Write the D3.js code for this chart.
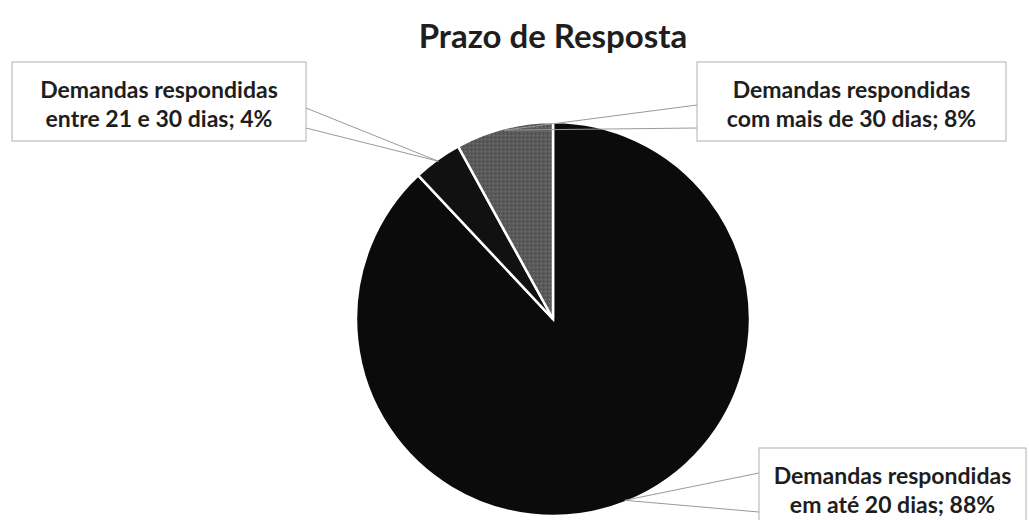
<!DOCTYPE html>
<html>
<head>
<meta charset="utf-8">
<style>
  body { margin: 0; background: #fff; }
  svg text { font-family: Lato, "Open Sans", sans-serif; font-weight: bold; fill: #1e1e1e; }
</style>
</head>
<body>
<svg width="1029" height="520"></svg>
<script src="https://d3js.org/d3.v7.min.js"></script>
<script>

// chart data
var categories = ["Demandas respondidas em até 20 dias",
                  "Demandas respondidas entre 21 e 30 dias",
                  "Demandas respondidas com mais de 30 dias"];
var values = [88, 4, 8];
var labelLines = [["Demandas respondidas", "em até 20 dias; 88%"],
                  ["Demandas respondidas", "entre 21 e 30 dias; 4%"],
                  ["Demandas respondidas", "com mais de 30 dias; 8%"]];
var title = "Prazo de Resposta";

var svg = d3.select("svg"),
    width = +svg.attr("width"),
    height = +svg.attr("height");

var cx = 553, cy = 319, radius = 197;

// dotted grey texture for the small slice
var defs = svg.append("defs");
var pat = defs.append("pattern")
    .attr("id", "grain")
    .attr("width", 4).attr("height", 4)
    .attr("patternUnits", "userSpaceOnUse");
pat.append("rect").attr("width", 4).attr("height", 4).attr("fill", "#5a5a5a");
pat.append("rect").attr("x", 0).attr("y", 0).attr("width", 1).attr("height", 1).attr("fill", "#7a7a7a");
pat.append("rect").attr("x", 2).attr("y", 2).attr("width", 1).attr("height", 1).attr("fill", "#454545");

var color = d3.scaleOrdinal()
    .domain(categories)
    .range(["#0b0b0b", "#111111", "url(#grain)"]);

svg.append("text")
    .attr("x", cx)
    .attr("y", 48)
    .attr("text-anchor", "middle")
    .attr("font-size", 33)
    .text(title);

var pie = d3.pie().sort(null).value(function(d) { return d; });
var arcs = pie(values);
var arc = d3.arc().innerRadius(0).outerRadius(radius);

var g = svg.append("g").attr("transform", "translate(" + cx + "," + cy + ")");

g.selectAll("path")
  .data(arcs)
  .enter().append("path")
    .attr("d", arc)
    .attr("fill", function(d, i) { return color(categories[i]); })
    .attr("stroke", "#fff")
    .attr("stroke-width", 2.5);

// label boxes (layout only)
var boxes = [
  { x: 759, y: 448, w: 267, h: 80, ends: [[759, 473], [759, 512]] },
  { x: 12,  y: 62,  w: 294, h: 79, ends: [[306, 108], [306, 128]] },
  { x: 697, y: 62,  w: 309, h: 79, ends: [[697, 105], [697, 128]] }
];

var edge = d3.arc().innerRadius(radius - 2).outerRadius(radius - 2);

boxes.forEach(function(b, i) {
  var c = edge.centroid(arcs[i]);
  var px = cx + c[0], py = cy + c[1];
  b.ends.forEach(function(e) {
    svg.append("line")
      .attr("x1", e[0]).attr("y1", e[1])
      .attr("x2", px).attr("y2", py)
      .attr("stroke", "#9a9a9a")
      .attr("stroke-width", 1);
  });
  svg.append("rect")
    .attr("x", b.x).attr("y", b.y)
    .attr("width", b.w).attr("height", b.h)
    .attr("fill", "#fff")
    .attr("stroke", "#b0b0b0")
    .attr("stroke-width", 1);
  var t = svg.append("text")
    .attr("text-anchor", "middle")
    .attr("font-size", 23);
  labelLines[i].forEach(function(line, k) {
    t.append("tspan")
      .attr("x", b.x + b.w / 2)
      .attr("y", b.y + 36 + k * 29)
      .text(line);
  });
});

</script>
</body>
</html>
